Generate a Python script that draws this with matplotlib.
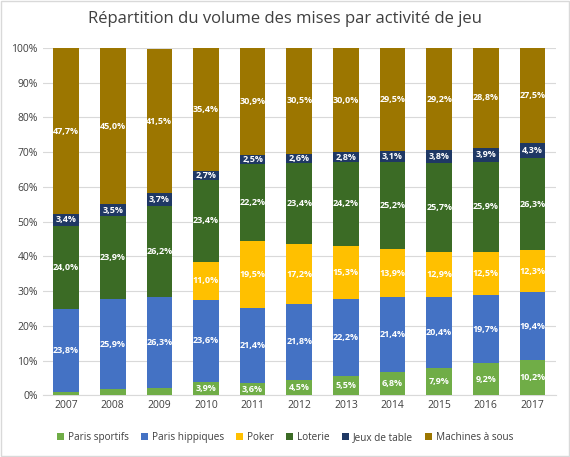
import numpy as np
import matplotlib
matplotlib.use("Agg")
import matplotlib.pyplot as plt
from matplotlib.ticker import FuncFormatter

plt.rcParams['font.family'] = ['Open Sans', 'DejaVu Sans']

years = ["2007", "2008", "2009", "2010", "2011", "2012", "2013", "2014", "2015", "2016", "2017"]
paris_sportifs = [1.0, 1.7, 2.0, 3.9, 3.6, 4.5, 5.5, 6.8, 7.9, 9.2, 10.2]
paris_hippiques = [23.8, 25.9, 26.3, 23.6, 21.4, 21.8, 22.2, 21.4, 20.4, 19.7, 19.4]
poker = [0, 0, 0, 11.0, 19.5, 17.2, 15.3, 13.9, 12.9, 12.5, 12.3]
loterie = [24.0, 23.9, 26.2, 23.4, 22.2, 23.4, 24.2, 25.2, 25.7, 25.9, 26.3]
jeux_table = [3.4, 3.5, 3.7, 2.7, 2.5, 2.6, 2.8, 3.1, 3.8, 3.9, 4.3]
machines = [47.7, 45.0, 41.5, 35.4, 30.9, 30.5, 30.0, 29.5, 29.2, 28.8, 27.5]

series = [
    ("Paris sportifs", paris_sportifs, "#70AD47"),
    ("Paris hippiques", paris_hippiques, "#4472C4"),
    ("Poker", poker, "#FFC000"),
    ("Loterie", loterie, "#3B6B25"),
    ("Jeux de table", jeux_table, "#1F3864"),
    ("Machines à sous", machines, "#9C7600"),
]

fig = plt.figure(figsize=(5.70, 4.57), dpi=100)
ax = fig.add_axes([0.075, 0.135, 0.9, 0.76])
x = np.arange(len(years))
bottom = np.zeros(len(years))
for name, vals, col in series:
    vals = np.array(vals, dtype=float)
    ax.bar(x, vals, 0.55, bottom=bottom, color=col, label=name, zorder=3)
    for i, v in enumerate(vals):
        if v >= 2.5:
            ax.text(x[i], bottom[i] + v / 2, f"{v:.1f}%".replace(".", ","),
                    ha="center", va="center", color="white", fontsize=6.5,
                    fontweight="bold", zorder=4)
    bottom += vals

ax.set_xlim(-0.5, len(years) - 0.5)
ax.set_ylim(0, 100)
ax.set_yticks(range(0, 101, 10))
ax.yaxis.set_major_formatter(FuncFormatter(lambda v, p: f"{int(v)}%"))
ax.set_xticks(x)
ax.set_xticklabels(years)
ax.tick_params(length=0, labelsize=7.5, colors="#404040")
ax.grid(axis="y", color="#D9D9D9", linewidth=0.8, zorder=0)
for s in ["top", "right", "left"]:
    ax.spines[s].set_visible(False)
ax.spines["bottom"].set_color("#D9D9D9")

fig.suptitle("Répartition du volume des mises par activité de jeu", y=0.975,
             fontsize=12, color="#404040")
fig.legend(loc="lower center", ncol=6, frameon=False, fontsize=7.2,
           handlelength=0.7, handleheight=0.7, columnspacing=1.2,
           handletextpad=0.4, bbox_to_anchor=(0.5, 0.01), labelcolor="#404040")
fig.patches.append(plt.Rectangle((0.002, 0.002), 0.996, 0.996, transform=fig.transFigure,
                                 fill=False, edgecolor="#D9D9D9", linewidth=1))
fig.savefig("out.png", dpi=100)
